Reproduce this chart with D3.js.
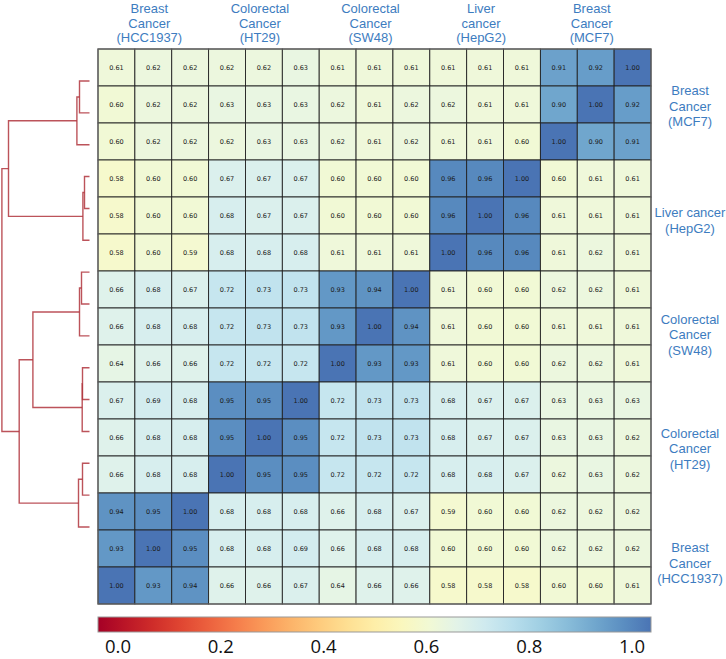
<!DOCTYPE html>
<html>
<head>
<meta charset="utf-8">
<script src="https://cdn.jsdelivr.net/npm/d3@7"></script>
<style>
  body { margin: 0; background: #fff; }
  svg { display: block; }
</style>
</head>
<body>
<div class="heatmap"></div>
<script>
// cell lines, three replicates each (top-to-bottom row order, left-to-right column order)
var colGroups = ["Breast Cancer (HCC1937)", "Colorectal Cancer (HT29)", "Colorectal Cancer (SW48)", "Liver cancer (HepG2)", "Breast Cancer (MCF7)"];
var colLabelLines = [["Breast", "Cancer", "(HCC1937)"], ["Colorectal", "Cancer", "(HT29)"], ["Colorectal", "Cancer", "(SW48)"], ["Liver", "cancer", "(HepG2)"], ["Breast", "Cancer", "(MCF7)"]];
var rowLabelLines = [["Breast", "Cancer", "(MCF7)"], ["Liver cancer", "(HepG2)"], ["Colorectal", "Cancer", "(SW48)"], ["Colorectal", "Cancer", "(HT29)"], ["Breast", "Cancer", "(HCC1937)"]];

// correlation matrix, 15 x 15
var values = [
  [0.61, 0.62, 0.62, 0.62, 0.62, 0.63, 0.61, 0.61, 0.61, 0.61, 0.61, 0.61, 0.91, 0.92, 1.00],
  [0.60, 0.62, 0.62, 0.63, 0.63, 0.63, 0.62, 0.61, 0.62, 0.62, 0.61, 0.61, 0.90, 1.00, 0.92],
  [0.60, 0.62, 0.62, 0.62, 0.63, 0.63, 0.62, 0.61, 0.62, 0.61, 0.61, 0.60, 1.00, 0.90, 0.91],
  [0.58, 0.60, 0.60, 0.67, 0.67, 0.67, 0.60, 0.60, 0.60, 0.96, 0.96, 1.00, 0.60, 0.61, 0.61],
  [0.58, 0.60, 0.60, 0.68, 0.67, 0.67, 0.60, 0.60, 0.60, 0.96, 1.00, 0.96, 0.61, 0.61, 0.61],
  [0.58, 0.60, 0.59, 0.68, 0.68, 0.68, 0.61, 0.61, 0.61, 1.00, 0.96, 0.96, 0.61, 0.62, 0.61],
  [0.66, 0.68, 0.67, 0.72, 0.73, 0.73, 0.93, 0.94, 1.00, 0.61, 0.60, 0.60, 0.62, 0.62, 0.61],
  [0.66, 0.68, 0.68, 0.72, 0.73, 0.73, 0.93, 1.00, 0.94, 0.61, 0.60, 0.60, 0.61, 0.61, 0.61],
  [0.64, 0.66, 0.66, 0.72, 0.72, 0.72, 1.00, 0.93, 0.93, 0.61, 0.60, 0.60, 0.62, 0.62, 0.61],
  [0.67, 0.69, 0.68, 0.95, 0.95, 1.00, 0.72, 0.73, 0.73, 0.68, 0.67, 0.67, 0.63, 0.63, 0.63],
  [0.66, 0.68, 0.68, 0.95, 1.00, 0.95, 0.72, 0.73, 0.73, 0.68, 0.67, 0.67, 0.63, 0.63, 0.62],
  [0.66, 0.68, 0.68, 1.00, 0.95, 0.95, 0.72, 0.72, 0.72, 0.68, 0.68, 0.67, 0.62, 0.63, 0.62],
  [0.94, 0.95, 1.00, 0.68, 0.68, 0.68, 0.66, 0.68, 0.67, 0.59, 0.60, 0.60, 0.62, 0.62, 0.62],
  [0.93, 1.00, 0.95, 0.68, 0.68, 0.69, 0.66, 0.68, 0.68, 0.60, 0.60, 0.60, 0.62, 0.62, 0.62],
  [1.00, 0.93, 0.94, 0.66, 0.66, 0.67, 0.64, 0.66, 0.66, 0.58, 0.58, 0.58, 0.60, 0.60, 0.61]
];

// row dendrogram: [left, right, height]; leaves 0..14, merges numbered 15..
var merges = [
  [0, 1, 10],      // 15
  [15, 2, 12.6],   // 16
  [3, 4, 5],       // 17
  [17, 5, 6.6],    // 18
  [16, 18, 81],    // 19
  [6, 7, 8],       // 20
  [20, 8, 10],     // 21
  [9, 10, 7],      // 22
  [22, 11, 7.3],   // 23
  [21, 23, 56.6],  // 24
  [12, 13, 7],     // 25
  [25, 14, 11],    // 26
  [24, 26, 70.3],  // 27
  [19, 27, 87.6]   // 28
];

var colorTicks = [0, 0.2, 0.4, 0.6, 0.8, 1.0];

var width = 726, height = 659;
var grid = {left: 98, top: 49, right: 651, bottom: 604};
var n = values.length;

var svg = d3.select(".heatmap").append("svg")
    .attr("width", width)
    .attr("height", height);

// colour: RdYlBu stretched so 1.0 lands on the mid-dark blue
var color = function(v) { return d3.interpolateRdYlBu(v * 0.9); };

var x = d3.scaleBand().domain(d3.range(n)).range([grid.left, grid.right]);
var y = d3.scaleBand().domain(d3.range(n)).range([grid.top, grid.bottom]);

// cells
var cells = [];
values.forEach(function(row, i) {
  row.forEach(function(v, j) { cells.push({r: i, c: j, v: v}); });
});

svg.append("g").selectAll("rect")
    .data(cells)
  .enter().append("rect")
    .attr("x", function(d) { return x(d.c); })
    .attr("y", function(d) { return y(d.r); })
    .attr("width", x.bandwidth())
    .attr("height", y.bandwidth())
    .style("fill", function(d) { return color(d.v); })
    .style("stroke", "#222")
    .style("stroke-width", 0.9);

svg.append("g").selectAll("text")
    .data(cells)
  .enter().append("text")
    .attr("x", function(d) { return x(d.c) + x.bandwidth() / 2; })
    .attr("y", function(d) { return y(d.r) + y.bandwidth() / 2; })
    .attr("dy", "0.35em")
    .attr("text-anchor", "middle")
    .style("font-family", "DejaVu Sans, sans-serif")
    .style("font-size", "6.5px")
    .style("fill", "#1a1a1a")
    .text(function(d) { return d.v.toFixed(2); });

svg.append("rect")
    .attr("x", grid.left)
    .attr("y", grid.top)
    .attr("width", grid.right - grid.left)
    .attr("height", grid.bottom - grid.top)
    .style("fill", "none")
    .style("stroke", "#666")
    .style("stroke-width", 1.2);

// column group labels
var gx = d3.scaleBand().domain(d3.range(colGroups.length)).range([grid.left, grid.right]);
var labelColor = "#3d7cc0";

var topLabels = svg.append("g").selectAll("text")
    .data(colLabelLines)
  .enter().append("text")
    .attr("text-anchor", "middle")
    .attr("transform", function(d, i) { return "translate(" + (gx(i) + gx.bandwidth() / 2 - 4) + ",13)"; })
    .style("font-family", "Liberation Sans, Arial, sans-serif")
    .style("font-size", "13px")
    .style("fill", labelColor);
topLabels.selectAll("tspan")
    .data(function(d) { return d; })
  .enter().append("tspan")
    .attr("x", 0)
    .attr("y", function(d, k) { return k * 14.5; })
    .text(function(d) { return d; });

// row group labels (drawn a little below the group centres, as in the original)
var ry = d3.scalePoint().domain(d3.range(rowLabelLines.length)).range([106, 563]);
var sideLabels = svg.append("g").selectAll("text")
    .data(rowLabelLines)
  .enter().append("text")
    .attr("text-anchor", "middle")
    .attr("transform", function(d, i) { return "translate(690," + ry(i) + ")"; })
    .style("font-family", "Liberation Sans, Arial, sans-serif")
    .style("font-size", "13px")
    .style("fill", labelColor);
sideLabels.selectAll("tspan")
    .data(function(d) { return d; })
  .enter().append("tspan")
    .attr("x", 0)
    .attr("y", function(d, k, nodes) { return (k - (nodes.length - 1) / 2) * 15.5 + 4.5; })
    .text(function(d) { return d; });

// dendrogram
var dx = d3.scaleLinear().domain([0, 88]).range([89.5, 1.5]);
var dy = d3.scaleLinear().domain([0, n - 1]).range([81, 527]);

var nodes = d3.range(n).map(function(i) { return {y: dy(i), h: 0}; });
var links = [];
merges.forEach(function(m) {
  var a = nodes[m[0]], b = nodes[m[1]];
  var node = {y: (a.y + b.y) / 2, h: m[2]};
  links.push({a: a, b: b, node: node});
  nodes.push(node);
});

var elbow = function(d) {
  var p = d3.path();
  p.moveTo(dx(d.a.h), d.a.y);
  p.lineTo(dx(d.node.h), d.a.y);
  p.lineTo(dx(d.node.h), d.b.y);
  p.lineTo(dx(d.b.h), d.b.y);
  return p.toString();
};

svg.append("g").selectAll("path")
    .data(links)
  .enter().append("path")
    .attr("d", elbow)
    .style("fill", "none")
    .style("stroke", "#b0353d")
    .style("stroke-opacity", 0.85)
    .style("stroke-width", 1.4);

// colour bar
var bar = {left: 98, right: 651, top: 617, bottom: 632};
var defs = svg.append("defs");
var grad = defs.append("linearGradient").attr("id", "cbar");
grad.selectAll("stop")
    .data(d3.range(0, 1.001, 0.05))
  .enter().append("stop")
    .attr("offset", function(d) { return (d * 100) + "%"; })
    .attr("stop-color", function(d) { return color(d); });

svg.append("rect")
    .attr("x", bar.left)
    .attr("y", bar.top)
    .attr("width", bar.right - bar.left)
    .attr("height", bar.bottom - bar.top)
    .style("fill", "url(#cbar)")
    .style("stroke", "#999")
    .style("stroke-width", 1);

var cx = d3.scaleLinear().domain([0, 1]).range([118, 632]);
svg.append("g").selectAll("text")
    .data(colorTicks)
  .enter().append("text")
    .attr("x", function(d) { return cx(d); })
    .attr("y", 653)
    .attr("text-anchor", "middle")
    .style("font-family", "Open Sans, sans-serif")
    .style("font-size", "18.5px")
    .style("fill", "#111")
    .text(function(d) { return d.toFixed(1); });
</script>
</body>
</html>
